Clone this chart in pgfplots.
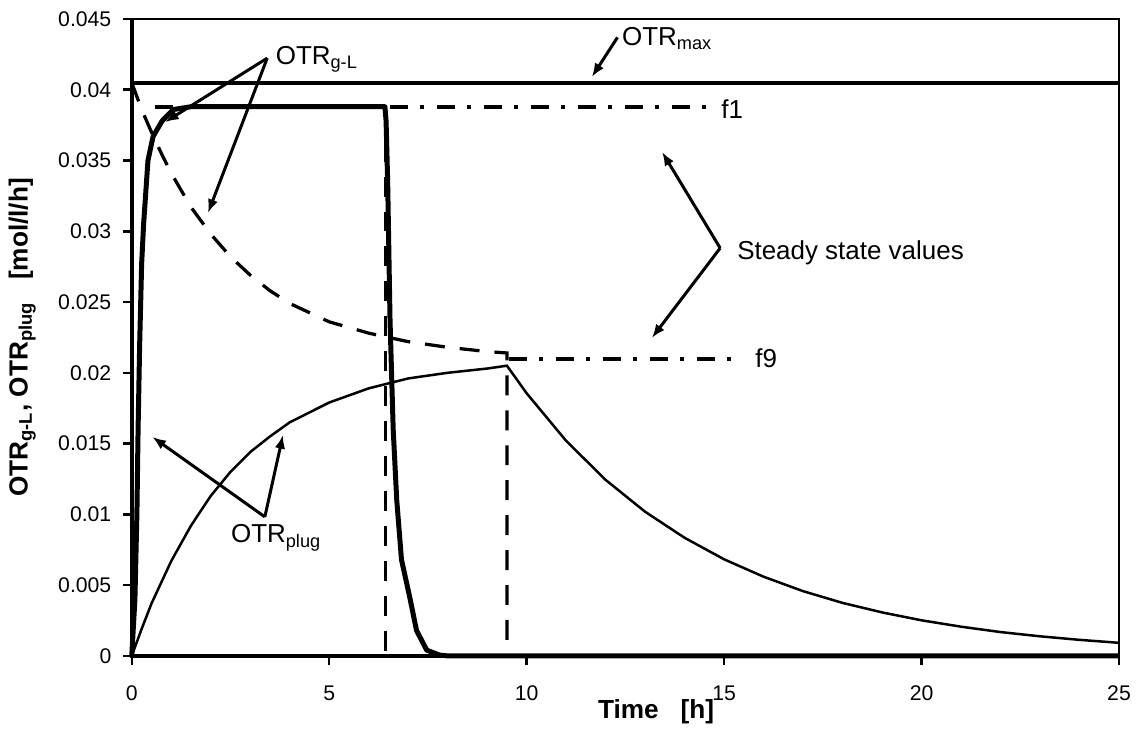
\documentclass[border=0pt]{standalone}
\usepackage{fontspec}
\setmainfont{Liberation Sans}
\usepackage{pgfplots}
\pgfplotsset{compat=1.18}
\usetikzlibrary{arrows.meta}
\newcommand{\annfont}{\fontsize{10.4}{12}\selectfont}
\begin{document}
\begin{tikzpicture}
\begin{axis}[
  name=ax,
  scale only axis,
  width=395.6pt, height=255.2pt,
  xmin=0, xmax=25, ymin=0, ymax=0.045,
  xtick={0,5,10,15,20,25},
  ytick={0,0.005,0.01,0.015,0.02,0.025,0.03,0.035,0.04,0.045},
  yticklabels={0,0.005,0.01,0.015,0.02,0.025,0.03,0.035,0.04,0.045},
  scaled y ticks=false,
  /pgf/number format/assume math mode=true,
  xtick align=outside, ytick align=outside,
  major tick length=3.6pt,
  xtick pos=lower, ytick pos=left,
  every tick/.style={black, line width=1pt},
  axis line style={line width=0.8pt},
  ticklabel style={font=\fontsize{8.5}{9}\selectfont},
  yticklabel style={inner sep=0pt, xshift=-4.4pt},
  xticklabel style={inner sep=0pt, yshift=-8.1pt},
  xlabel={\textbf{Time\ \ \ [h]}},
  ylabel={\textbf{OTR\textsubscript{g-L}, OTR\textsubscript{plug}\ \ \ [mol/l/h]}},
  label style={font=\fontsize{10.5}{12}\selectfont},
  xlabel style={at={(axis description cs:0.531,-0.088)}, anchor=center},
  ylabel style={at={(axis description cs:-0.111,0.5)}, anchor=center, rotate=0},
  clip=false,
]
% OTR_max
\addplot[black, line width=1.6pt] coordinates {(0,0.0405) (25,0.0405)};
% steady state f1 and f9
\addplot[black, line width=1.5pt, dash pattern=on 7.2pt off 5pt on 1.6pt off 5pt] coordinates {(0.6,0.0388) (14.6,0.0388)};
\addplot[black, line width=1.5pt, dash pattern=on 7.2pt off 5pt on 1.6pt off 5pt] coordinates {(9.55,0.0210) (15.33,0.0210)};
% dashed OTR_gL (f9)
\addplot[black, line width=1.3pt, dash pattern=on 8pt off 6pt] coordinates {
(0,0.0405) (0.25,0.0386) (0.5,0.0370) (0.75,0.0355) (1,0.0341) (1.5,0.0317)
(2,0.0298) (2.5,0.0282) (3,0.0269) (3.5,0.0258) (4,0.0249) (5,0.0236)
(6,0.0228) (7,0.0222) (8,0.0218) (9,0.0215) (9.5,0.0214) (9.5,0)};
% dashed vertical at 6.45
\addplot[black, line width=1.3pt, dash pattern=on 8pt off 6pt] coordinates {(6.43,0.0388) (6.43,0)};
% OTR_plug thin
\addplot[black, line width=1pt] coordinates {
(0,0) (0.25,0.0019) (0.5,0.0037) (1,0.0067) (1.5,0.0092) (2,0.0113) (2.5,0.0130)
(3,0.0144) (3.5,0.0155) (4,0.0165) (5,0.0179) (6,0.0189) (7,0.0196) (8,0.0200)
(9,0.0203) (9.5,0.0205) (10,0.01855) (11,0.01519) (12,0.01243) (13,0.01018)
(14,0.00834) (15,0.00682) (16,0.00559) (17,0.00457) (18,0.00374) (19,0.00307)
(20,0.00251) (21,0.00206) (22,0.00168) (23,0.00138) (24,0.00113) (25,0.00092)};
% OTR_gL thick (f1)
\addplot[black, line width=2pt, line join=round] coordinates {
(0,0) (0.08,0.004) (0.13,0.010) (0.16,0.016) (0.2,0.022) (0.25,0.0277) (0.3,0.0305)
(0.41,0.0350) (0.54,0.0367) (0.77,0.0378) (1.05,0.0386) (1.5,0.0388) (6.41,0.0388)
(6.44,0.0378) (6.48,0.0335) (6.54,0.0237) (6.62,0.0160) (6.71,0.0110) (6.83,0.0068)
(7.05,0.0040) (7.21,0.0018) (7.47,0.0004) (7.8,0.00005) (8.0,0) (25,0)};
% thicker left and bottom axis lines
\draw[line width=1.5pt] (rel axis cs:0,1) -- (rel axis cs:0,0) -- (rel axis cs:1,0);
% explicit outward tick marks
\pgfplotsinvokeforeach{0,0.005,0.01,0.015,0.02,0.025,0.03,0.035,0.04,0.045}{
  \draw[line width=1pt] (axis cs:0,#1) -- ++(-3.6pt,0pt);
}
\pgfplotsinvokeforeach{0,5,10,15,20,25}{
  \draw[line width=1pt] (axis cs:#1,0) -- ++(0pt,-3.6pt);
}
% annotations
\node[font=\annfont, inner sep=0pt] at (axis cs:4.69,0.04213) {OTR\textsubscript{g-L}};
\draw[line width=1.2pt, -{Latex[length=5.5pt,width=4.2pt]}] (axis cs:3.43,0.04223) -- (axis cs:0.84,0.03771);
\draw[line width=1.2pt, -{Latex[length=5.5pt,width=4.2pt]}] (axis cs:3.43,0.04223) -- (axis cs:1.93,0.03129);
\node[font=\annfont, inner sep=0pt] at (axis cs:13.56,0.04364) {OTR\textsubscript{max}};
\draw[line width=1.2pt, -{Latex[length=5.5pt,width=4.2pt]}] (axis cs:12.3,0.0437) -- (axis cs:11.65,0.0409);
\node[font=\annfont, inner sep=0pt, anchor=west] at (axis cs:14.92,0.0386) {f1};
\node[font=\annfont, inner sep=0pt, anchor=west] at (axis cs:15.78,0.0210) {f9};
\node[font=\annfont, inner sep=0pt, anchor=west] at (axis cs:15.32,0.02846) {Steady state values};
\draw[line width=1.2pt, -{Latex[length=5.5pt,width=4.2pt]}] (axis cs:14.9,0.02881) -- (axis cs:13.43,0.0356);
\draw[line width=1.2pt, -{Latex[length=5.5pt,width=4.2pt]}] (axis cs:14.9,0.02881) -- (axis cs:13.17,0.02246);
\node[font=\annfont, inner sep=0pt] at (axis cs:3.66,0.00833) {OTR\textsubscript{plug}};
\draw[line width=1.2pt, -{Latex[length=5.5pt,width=4.2pt]}] (axis cs:3.37,0.00982) -- (axis cs:0.52,0.01547);
\draw[line width=1.2pt, -{Latex[length=5.5pt,width=4.2pt]}] (axis cs:3.37,0.00982) -- (axis cs:3.83,0.01561);
\end{axis}
\pgfresetboundingbox
\path ([xshift=-52.8pt,yshift=-29.25pt]ax.south west) rectangle ([xshift=6.8pt,yshift=7.6pt]ax.north east);
\end{tikzpicture}
\end{document}
